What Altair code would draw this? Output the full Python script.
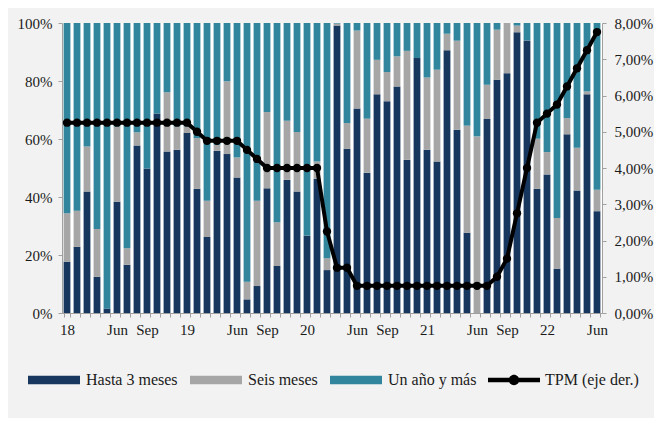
import altair as alt
import pandas as pd

meses = [f"{y}-{m:02d}" for y in range(2018, 2023) for m in range(1, 13)][:54]

hasta3 = [17.7, 22.8, 41.9, 12.5, 1.5, 38.4, 16.6, 57.8, 49.8, 68.8, 55.7, 56.3,
          62.1, 42.8, 26.2, 55.9, 54.8, 46.7, 4.7, 9.3, 43.0, 16.2, 45.9, 41.9,
          26.7, 46.3, 14.8, 99.1, 56.6, 70.5, 48.4, 75.4, 73.0, 78.1, 52.8, 87.9,
          56.3, 52.2, 90.6, 63.2, 27.7, 0.0, 66.9, 80.4, 82.7, 96.8, 94.0, 42.8,
          47.8, 15.3, 61.6, 42.2, 75.4, 35.1]
seis = [16.7, 12.5, 15.5, 16.5, 0.0, 25.9, 5.7, 4.5, 0.0, 0.0, 20.4, 8.0,
        2.2, 17.5, 12.5, 2.1, 25.1, 6.9, 6.1, 29.4, 26.3, 15.1, 20.4, 20.5,
        0.0, 5.9, 4.1, 0.7, 8.9, 26.9, 18.6, 11.9, 10.1, 10.4, 37.6, 0.0,
        24.9, 31.7, 5.7, 30.7, 36.9, 60.9, 11.8, 17.3, 17.3, 2.3, 0.0, 17.3,
        7.7, 17.5, 5.6, 14.8, 1.0, 7.4]
unano = [65.6, 64.7, 42.6, 71.0, 98.5, 35.7, 77.7, 37.7, 50.2, 31.2, 23.9, 35.7,
         35.7, 39.7, 61.3, 42.0, 20.1, 46.4, 89.2, 61.3, 30.7, 68.7, 33.7, 37.6,
         73.3, 47.8, 81.1, 0.2, 34.5, 2.6, 33.0, 12.7, 16.9, 11.5, 9.6, 12.1,
         18.8, 16.1, 3.7, 6.1, 35.4, 39.1, 21.3, 2.3, 0.0, 0.9, 6.0, 39.9,
         44.5, 67.2, 32.8, 43.0, 23.6, 57.5]
tpm = [5.25, 5.25, 5.25, 5.25, 5.25, 5.25, 5.25, 5.25, 5.25, 5.25, 5.25, 5.25,
       5.25, 5.0, 4.75, 4.75, 4.75, 4.75, 4.5, 4.25, 4.0, 4.0, 4.0, 4.0,
       4.0, 4.0, 2.25, 1.25, 1.25, 0.75, 0.75, 0.75, 0.75, 0.75, 0.75, 0.75,
       0.75, 0.75, 0.75, 0.75, 0.75, 0.75, 0.75, 1.0, 1.5, 2.75, 4.0, 5.25,
       5.5, 5.75, 6.25, 6.75, 7.25, 7.75]

series = ["Hasta 3 meses", "Seis meses", "Un año y más"]
colores = ["#17375e", "#a6a6a6", "#31859c"]
tpm_label = "TPM (eje der.)"

rows = []
for i, m in enumerate(meses):
    for k, (s, vals) in enumerate(zip(series, [hasta3, seis, unano])):
        rows.append({"mes": m, "serie": s, "valor": vals[i], "orden": k})
df_bars = pd.DataFrame(rows)
df_tpm = pd.DataFrame({"mes": meses, "tpm": tpm, "lbl": [tpm_label] * len(meses)})

FONT = "Liberation Serif"
GRAY = "#a0a0a0"
TXT = "#1a1a1a"

x_enc = alt.X(
    "mes:O",
    sort=meses,
    title=None,
    scale=alt.Scale(paddingInner=0.32, paddingOuter=0.16),
    axis=alt.Axis(
        labelAngle=0,
        labelExpr="substring(datum.value,5,7)=='01' ? substring(datum.value,2,4) : "
                  "(substring(datum.value,5,7)=='06' ? 'Jun' : "
                  "(substring(datum.value,5,7)=='09' ? 'Sep' : ''))",
        labelOverlap=False,
        tickBand="extent",
        tickSize=4,
        tickColor=GRAY,
        domainColor=GRAY,
        labelPadding=5,
        labelFontSize=15,
        labelColor=TXT,
    ),
)

rect_path = "M-1,-0.16H1V0.16H-1Z"
line_path = "M-1,-0.09H1V0.09H-1Z M-0.2,0A0.2,0.2,0,1,1,0.2,0A0.2,0.2,0,1,1,-0.2,0Z"

bars = alt.Chart(df_bars).mark_bar().encode(
    x=x_enc,
    y=alt.Y(
        "valor:Q",
        stack="zero",
        title=None,
        scale=alt.Scale(domain=[0, 100], nice=False),
        axis=alt.Axis(
            values=[0, 20, 40, 60, 80, 100],
            labelExpr="datum.value + '%'",
            grid=False,
            tickSize=4,
            tickColor=GRAY,
            domainColor=GRAY,
            labelPadding=6,
            labelFontSize=15,
            labelColor=TXT,
        ),
    ),
    color=alt.Color(
        "serie:N",
        scale=alt.Scale(domain=series, range=colores),
        legend=alt.Legend(
            title=None,
            orient="none",
            direction="horizontal",
            legendX=-34,
            legendY=331,
            symbolType=rect_path,
            symbolSize=2704,
            symbolStrokeWidth=0,
            symbolOpacity=1,
            labelFontSize=16,
            labelColor=TXT,
            labelOffset=6,
            columnPadding=12,
        ),
    ),
    order=alt.Order("orden:Q", sort="ascending"),
)

right_axis = alt.Axis(
    orient="right",
    values=[0, 1, 2, 3, 4, 5, 6, 7, 8],
    labelExpr="replace(format(datum.value, '.2f'), '.', ',') + '%'",
    grid=False,
    tickSize=4,
    tickColor=GRAY,
    domainColor=GRAY,
    labelPadding=8,
    labelFontSize=15,
    labelColor=TXT,
)


def y_right():
    return alt.Y("tpm:Q", title=None,
                 scale=alt.Scale(domain=[0, 8], nice=False), axis=right_axis)


line = alt.Chart(df_tpm).mark_line(color="black", strokeWidth=4).encode(
    x=alt.X("mes:O", sort=meses),
    y=y_right(),
)

points = alt.Chart(df_tpm).mark_circle(size=70, opacity=1).encode(
    x=alt.X("mes:O", sort=meses),
    y=y_right(),
    color=alt.Color(
        "lbl:N",
        scale=alt.Scale(domain=[tpm_label], range=["black"]),
        legend=alt.Legend(
            title=None,
            orient="none",
            direction="horizontal",
            legendX=426,
            legendY=331,
            symbolType=line_path,
            symbolSize=2704,
            symbolStrokeWidth=0,
            symbolOpacity=1,
            labelFontSize=16,
            labelColor=TXT,
            labelOffset=5,
        ),
    ),
)

right = alt.layer(line, points)

chart = (
    alt.layer(bars, right)
    .resolve_scale(y="independent", color="independent")
    .properties(
        width=540,
        height=290,
        background="#f2f2f2",
        padding={"left": 54, "top": 15, "right": 52, "bottom": 105},
        autosize=alt.AutoSizeParams(type="none"),
    )
    .configure(font=FONT)
    .configure_axis(labelFont=FONT)
    .configure_legend(labelFont=FONT)
    .configure_view(fill="#ffffff", stroke=None)
)

chart.save("out.html", embed_options={"renderer": "svg", "actions": False})
